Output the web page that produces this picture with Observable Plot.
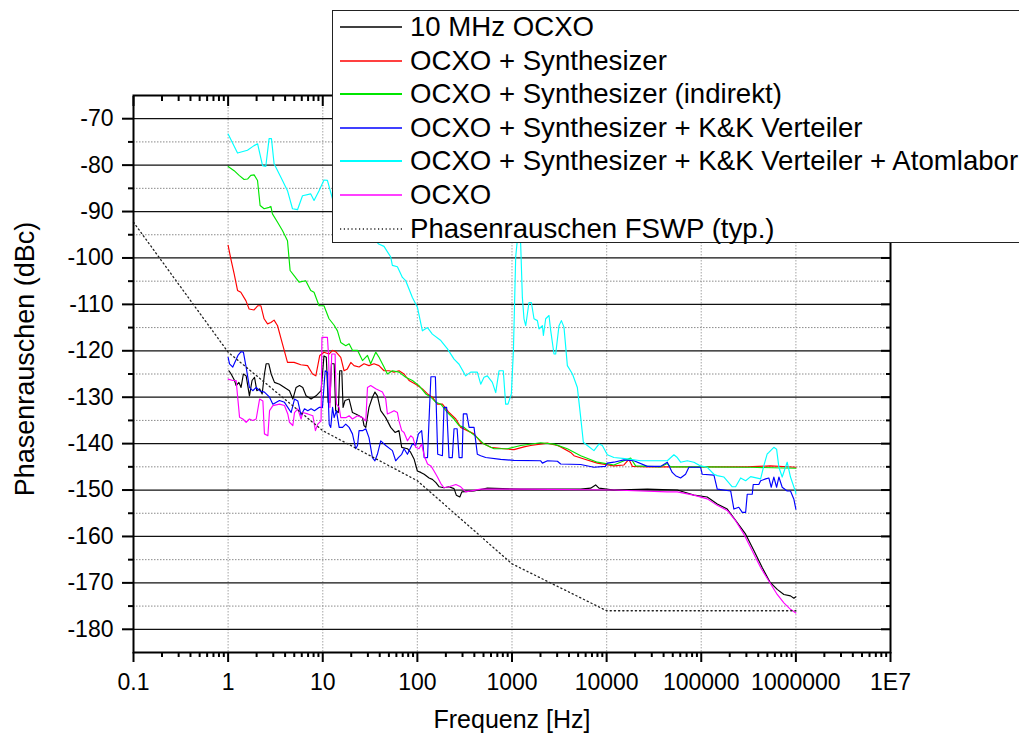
<!DOCTYPE html>
<html>
<head>
<meta charset="utf-8">
<script src="https://cdn.jsdelivr.net/npm/d3@7"></script>
<script src="https://cdn.jsdelivr.net/npm/@observablehq/plot@0.6"></script>
<style>
html, body { margin: 0; padding: 0; background: #fff; overflow: hidden; width: 1019px; height: 735px; }
#wrap { position: relative; width: 1019px; height: 735px; overflow: hidden; background: #fff; }
#wrap > svg.main { position: absolute; left: 0; top: 0; }
#legend { position: absolute; left: 332px; top: 10px; width: 760px; height: 233px; box-sizing: border-box;
  border: 1px solid #222; background: #fff; font-family: "Liberation Sans", Arial, sans-serif; font-size: 27.6px; color: #000; }
.row { position: absolute; left: 0; height: 34px; display: flex; align-items: center; white-space: nowrap; }
.row svg { display: block; flex: none; margin-left: 7px; margin-right: 8px; }
</style>
</head>
<body>
<div id="wrap"><div id="legend"></div></div>
<script>
// ---- data ----
const seriesNames = ["10 MHz OCXO", "OCXO + Synthesizer", "OCXO + Synthesizer (indirekt)",
  "OCXO + Synthesizer + K&K Verteiler", "OCXO + Synthesizer + K&K Verteiler + Atomlabor",
  "OCXO", "Phasenrauschen FSWP (typ.)"];
const seriesColors = ["#000000", "#ff0000", "#00e600", "#0000ff", "#00ffff", "#ff00ff", "#222222"];

const freqOcxo10 = [1.02,1.076,1.17,1.215,1.30,1.37,1.45,1.55,1.68,1.79,
1.90,2.01,2.15,2.29,2.42,2.52,2.69,2.85,3.09,3.49,
3.94,4.45,4.83,5.23,5.68,6.15,6.66,7.53,8.50,9.60,
10.3,10.9,11.4,11.9,12.35,13.2,13.7,14.6,15.1,15.9,
16.4,17.2,19.0,20.6,22.3,24.2,26.3,27.3,28.5,30.8,
33.5,35.6,37.8,41.0,46.3,52.3,58.1,63.9,68.3,78.5,
85,92.2,100,108.6,118,133,144,157,170,191,
216,244,258,281,295,397,549,1235,5320,6780,
7650,8290,11940,26930,55800,83570,115700,147600,188200,240100,
294500,360900,440800,535500,634800,747000,877200,953000,1000000];
const dbOcxo10 = [-124.3,-125,-126.4,-127.5,-126.8,-127.9,-125,-125.4,-129.7,-126.4,
-125.7,-128.6,-128.2,-129.3,-125,-122.8,-122.8,-125,-126.8,-127.2,
-127.9,-128.6,-130.4,-127.9,-127.5,-127.9,-129.7,-130.4,-129.7,-128.6,
-121.1,-121.4,-131.1,-131.1,-122.8,-122.8,-132.9,-133.3,-124.3,-124.3,
-132.2,-130.7,-130.4,-133.3,-133.6,-134,-134.4,-136.1,-136.5,-132.2,
-130,-128.9,-129.7,-132.9,-134.4,-136.5,-137.6,-137.2,-140.8,-141.1,
-141.9,-143.3,-145.9,-146.2,-146.6,-147.4,-147.7,-148.4,-149.3,-149.5,
-149.3,-149.7,-151.1,-151.5,-150.4,-150.2,-149.6,-149.8,-149.8,-149.6,
-148.9,-149.6,-150,-149.8,-150,-151.1,-151.5,-153,-154.1,-157,
-159.5,-163.1,-166.7,-169.9,-171.4,-172.5,-172.8,-173.3,-173];

const freqSynth = [1.0,1.068,1.157,1.257,1.362,1.54,1.667,1.88,2.05,2.22,
2.40,2.61,2.83,3.06,3.33,3.75,4.24,4.98,5.86,6.91,
7.80,8.45,9.3,10.3,11.65,12.7,13.7,15.5,16.8,18.2,
19.8,21.4,24.2,27.3,30.8,34.8,39.3,44.4,50.1,56.7,
63.9,72.3,81.6,96,113,128,144,163,184,216,
255,287,337,397,467,596,823,1050,1339,1576,
2370,3020,3270,4170,4517,5760,7980,11940,15240,17200,
18700,26930,60470,136200,306100,535500,1000000];
const dbSynth = [-97.3,-100.2,-103.4,-107,-107.4,-109.2,-111,-111.2,-110.3,-110.3,
-113.1,-114.2,-113.9,-113.4,-114.6,-118.5,-122.5,-122.5,-123,-123.2,
-125,-125.4,-121,-120.3,-120.7,-119.9,-120.2,-121.4,-124.3,-123.9,
-122.5,-123.2,-123.5,-122.8,-123.2,-122.8,-123.2,-124.3,-124.3,-124.6,
-124.3,-125,-126.4,-127.2,-128.2,-129.3,-130,-131.5,-131.5,-133.3,
-134.7,-136.5,-137.2,-137.9,-139.7,-140.8,-141.1,-141.3,-140.7,-140.4,
-139.9,-140.4,-140.7,-141.9,-142.6,-143.3,-144.2,-144.8,-144.6,-143.4,
-144.9,-145,-145,-145,-145,-144.8,-145.1];

const freqIndirekt = [1.0,1.157,1.307,1.476,1.603,1.737,1.882,2.045,2.178,2.401,
2.711,2.83,2.94,3.33,3.75,4.24,4.52,4.98,5.62,6.61,
7.47,8.09,9.14,10.3,11.65,13.2,14.3,15.5,17.5,19.0,
20.6,23.3,26.3,29.7,32.1,36.3,39.3,44.4,48.2,54.5,
63.9,75.3,88.6,104,122.6,139,157,177,208,244,
276,311,430,506,646,892,1235,2010,2778,3847,
5320,7980,11940,17930,20250,37190,43780,47420,98500,332600,
1000000];
const dbIndirekt = [-80.3,-81.2,-82.2,-83.1,-83,-82.2,-82.1,-83.3,-88.7,-89.4,
-89.1,-88.9,-90.5,-92.3,-94.1,-96.3,-102.7,-103.8,-105.2,-104.9,
-107,-107.4,-110.3,-110.3,-113.1,-114.5,-115.7,-118.2,-118.9,-118.5,
-119.9,-119.9,-122.1,-121,-122.8,-120.3,-121.4,-123.5,-125,-124.3,
-124.6,-125.7,-126.4,-127.5,-129.3,-130,-131.1,-131.5,-133.3,-134.7,
-136.1,-136.5,-138.7,-140.1,-141.1,-141.1,-140.4,-139.8,-140.1,-141.1,
-142.6,-144,-144.6,-143.1,-144.8,-145,-144.3,-145,-145,-145.1,
-145.3];

const freqVerteiler = [1.0,1.035,1.12,1.27,1.37,1.45,1.55,1.68,1.82,1.98,
2.15,2.42,2.74,2.97,3.49,3.94,4.27,4.63,5.03,5.45,
5.90,6.41,6.95,7.53,8.17,9.14,9.93,10.6,11.2,11.7,
12.15,12.7,13.2,13.95,14.9,16.2,17.5,19.0,20.6,22.3,
23.3,24.2,26.3,28.5,30.8,33.5,35.6,37.8,41.0,46.3,
54.5,59.0,63.0,68.3,72.3,78.5,88.6,96,102.6,111,
118,128,134,139,155,164,184,191,204,216,
234,244,263,276,297,306,333,352,397,430,
467,527,759,1050,2010,2096,2370,3020,3270,5320,
7340,9700,10170,11940,15240,19440,26930,37190,43780,49370,
53550,60470,68280,74050,98500,102500,136200,147600,204600,221300,
249300,271100,294500,306100,345700,354200,406000,424100,478800,518000,
549000,585000,625500,661300,716800,809400,877200,953000,1000000];
const dbVerteiler = [-121.4,-122.8,-123.5,-121,-120.2,-120.3,-123.5,-127.9,-128.6,-127.9,
-128.6,-128.9,-130,-131.5,-130.7,-131.1,-132.2,-133.3,-130.4,-130.8,
-133.9,-132.5,-132.9,-132.5,-132.9,-132.2,-132.2,-124.3,-124.6,-135.8,
-136.5,-132.2,-134.4,-132.9,-136.5,-136.5,-135.8,-136.5,-137.9,-141.1,
-140.4,-137.2,-137.2,-136.8,-138.7,-143,-143.7,-142.3,-139.4,-140.4,
-141.5,-143.7,-143,-142.3,-141.1,-142.3,-140.1,-140.4,-137.9,-137.2,
-143,-143,-133,-125.6,-125.6,-142.3,-142.6,-132.2,-132.2,-143,
-143,-136.8,-136.8,-143,-143,-133.6,-133.6,-136.5,-136.5,-142.3,
-142.6,-143,-143.4,-143.6,-143.7,-144.2,-143.7,-143.8,-144.4,-144.5,
-145.1,-144.9,-144.2,-144,-143.5,-143.7,-144.9,-144.9,-144,-146.2,
-146.9,-147.4,-146.6,-145.1,-145.1,-146.6,-146.8,-149.8,-150.2,-154.1,
-153.7,-154.8,-154.8,-150.9,-150.9,-148.8,-148.8,-148,-147.6,-147.4,
-149.4,-147.2,-149.4,-147.2,-149.4,-150.2,-150.2,-152,-154.1];

const freqAtomlabor = [1.0,1.257,1.60,1.88,2.05,2.31,2.50,2.71,2.87,3.06,
3.61,4.24,4.79,5.41,6.11,7.47,8.09,9.14,10.3,11.2,
12.7,18,26,39,44.4,52.3,54.4,61.5,69.5,75.3,
88.6,100,113,128,144,177,208,244,276,324,
366,430,467,506,549,620,673,729,809,857,
907,984,1035,1094,1140,1180,1210,1235,1287,1339,
1396,1512,1603,1708,1855,1929,2096,2147,2270,2460,
2563,2778,2895,3137,3326,3542,3847,4355,4906,5316,
5677,6255,7344,8293,9010,10170,11940,16550,22870,37190,
43780,51400,55800,60470,71150,83570,98500,115700,136200,147600,
173800,212600,230800,260800,294500,332600,424100,459500,497800,518000,
585000,625500,661300,716800,809400,877200,992000,1000000];
const dbAtomlabor = [-73.3,-77.4,-76.8,-75.8,-75.4,-80.1,-80.3,-74.3,-74.3,-79.7,
-82.6,-85.5,-89.4,-89.6,-86.6,-86.2,-87.6,-85.5,-83.2,-83.3,
-87.3,-89,-93,-97,-97.5,-99.8,-101.6,-101.9,-104.2,-104.9,
-108.5,-110.6,-115.7,-115,-116.4,-117.8,-119.6,-121.8,-122.9,-125.4,
-124.6,-124.6,-127.2,-125.7,-125.4,-126.8,-129,-124.3,-124.3,-131.5,
-131.5,-129.3,-120,-99.8,-96,-92,-95,-97,-108.5,-113.1,
-114.6,-109.6,-109.6,-113.1,-113.5,-115.3,-114.6,-116.7,-113.1,-112.4,
-115.6,-120.7,-120.7,-114.6,-113.5,-114.9,-123.2,-125,-127.9,-134.3,
-139.7,-140.4,-141.5,-140.1,-140.4,-142.4,-143,-143.3,-143.7,-143.7,
-143.7,-142.4,-143,-144,-143.7,-144,-144.8,-145.1,-146.6,-146.9,
-147.2,-149.3,-149.3,-147.4,-148,-147.1,-147.6,-144.7,-142.2,-141.9,
-140.8,-141.2,-145.1,-147.2,-144,-147.2,-150.4,-150.8];

const freqOcxo = [1.0,1.12,1.215,1.32,1.43,1.55,1.68,1.82,1.98,2.15,
2.33,2.42,2.63,2.74,2.97,3.49,3.94,4.27,4.45,4.83,
5.03,5.45,5.90,6.15,6.95,7.86,8.37,8.86,9.6,9.8,
11.2,11.5,11.9,12.45,13.5,13.95,14.9,15.5,17.5,19.0,
20.6,23.3,26.3,28.5,29.7,32.1,36.3,42.7,46.3,48.2,
52.3,56.7,61.5,63.9,68.3,72.3,78.5,85,89.9,96,
104,111,118,128,139,150,163,177,191,216,
255,287,324,467,1230,11900,43780,55800,83570,115700,
147600,188200,230800,282400,345700,424100,518000,634800,747000,877200,
1000000];
const dbOcxo = [-126.1,-126.4,-126.4,-134.3,-134.7,-135.4,-134.7,-135,-134.7,-130.4,
-130.8,-137.9,-138.3,-132.9,-131.8,-131.5,-131.8,-133.6,-135.4,-136.1,
-133.3,-132.5,-134.7,-133.3,-133.6,-134,-137.2,-135.8,-135.1,-117.1,
-117.1,-120.7,-132.2,-120.7,-120.7,-131.5,-132.2,-134.4,-134.4,-134,
-134.7,-134,-134.4,-135.1,-127.9,-127.5,-128.2,-128.9,-130.4,-133.6,
-133.3,-132.9,-133.3,-135.1,-137.2,-137.6,-139.4,-138.3,-138.7,-140.8,
-141.1,-140.1,-142.6,-144.4,-144.8,-145.9,-147.2,-148.6,-149.5,-149.3,
-148.8,-149.3,-150.4,-149.8,-149.8,-150,-150.4,-150.4,-151.1,-151.9,
-153.3,-154.4,-156.6,-159.5,-163.1,-166.7,-169.6,-172.5,-174.3,-175.7,
-176.5];

const freqFswp = [0.1, 1, 10, 100, 1000, 10000, 1000000];
const dbFswp = [-92.3, -120.3, -137.2, -148, -165.9, -176, -176];

// ticks
const xMajor = [0.1, 1, 10, 100, 1000, 10000, 100000, 1000000, 10000000];
const xLabels = ["0.1", "1", "10", "100", "1000", "10000", "100000", "1000000", "1E7"];
const xGridLines = [1, 10, 100, 1000, 10000, 100000, 1000000];
const xMinor = d3.range(-1, 7).flatMap(k => d3.range(2, 10).map(m => m * Math.pow(10, k)));
const yMajor = [-70, -80, -90, -100, -110, -120, -130, -140, -150, -160, -170, -180];
const yMinor = [-75, -85, -95, -105, -115, -125, -135, -145, -155, -165, -175];
const xTitle = "Frequenz [Hz]";
const yTitle = "Phasenrauschen (dBc)";

// ---- build ----
const seriesData = [
  [freqOcxo10, dbOcxo10], [freqSynth, dbSynth], [freqIndirekt, dbIndirekt],
  [freqVerteiler, dbVerteiler], [freqAtomlabor, dbAtomlabor], [freqOcxo, dbOcxo], [freqFswp, dbFswp]
].map(([f, v], s) => f.map((x, i) => ({f: x, db: v[i], s})));

const font = "'Liberation Sans', Arial, sans-serif";
const tickFont = 23;

const lineMarks = [0, 1, 2, 3, 4, 5].map(s =>
  Plot.line(seriesData[s], {x: "f", y: "db", stroke: seriesColors[s], strokeWidth: 1.15})
);

const chart = Plot.plot({
  width: 1019, height: 735,
  marginLeft: 133, marginRight: 129, marginTop: 95, marginBottom: 83,
  x: {type: "log", domain: [0.1, 1e7]},
  y: {domain: [-185, -65]},
  style: {fontFamily: font, background: "#fff", color: "#000", overflow: "visible"},
  marks: [
    Plot.gridX(xGridLines, {stroke: "#b4b4b4", strokeOpacity: 1, strokeWidth: 1.2, strokeDasharray: "1.5,1.5"}),
    Plot.gridY(yMinor, {stroke: "#8a8a8a", strokeOpacity: 1, strokeWidth: 1, strokeDasharray: "1.5,1.5"}),
    Plot.gridY(yMajor, {stroke: "#111", strokeOpacity: 1, strokeWidth: 1.2}),
    ...lineMarks,
    Plot.line(seriesData[6], {x: "f", y: "db", stroke: seriesColors[6], strokeWidth: 1.3, strokeDasharray: "1.2,3"}),
    Plot.frame({stroke: "#000", strokeWidth: 2}),
    // bottom axis: outward ticks with labels
    Plot.axisX(xMajor, {anchor: "bottom", tickSize: 10, tickPadding: 11, strokeWidth: 2, fontSize: tickFont,
      tickFormat: d => xLabels[xMajor.indexOf(d)], label: null}),
    Plot.axisX(xMinor, {anchor: "bottom", tickSize: 5, strokeWidth: 2, tickFormat: () => "", label: null}),
    // top axis: inward ticks (shifted down by their own length)
    Plot.axisX(xMajor, {anchor: "top", tickSize: 10, dy: 10, strokeWidth: 2, tickFormat: () => "", label: null}),
    Plot.axisX(xMinor, {anchor: "top", tickSize: 5, dy: 5, strokeWidth: 2, tickFormat: () => "", label: null}),
    // left axis: outward ticks with labels
    Plot.axisY(yMajor, {anchor: "left", tickSize: 11, tickPadding: 9, strokeWidth: 2, fontSize: tickFont,
      tickFormat: d => String(d), label: null}),
    Plot.axisY(yMinor, {anchor: "left", tickSize: 5, strokeWidth: 2, tickFormat: () => "", label: null}),
    // right axis: inward ticks
    Plot.axisY(yMajor, {anchor: "right", tickSize: 10, dx: -10, strokeWidth: 2, tickFormat: () => "", label: null}),
    Plot.axisY(yMinor, {anchor: "right", tickSize: 5, dx: -5, strokeWidth: 2, tickFormat: () => "", label: null}),
    Plot.text([xTitle], {text: d => d, frameAnchor: "bottom", dy: 67, fontSize: 25, textAnchor: "middle", lineAnchor: "middle", fill: "#000"}),
    Plot.text([yTitle], {text: d => d, frameAnchor: "left", dx: -108, dy: -15, rotate: -90, fontSize: 27, textAnchor: "middle", lineAnchor: "middle", fill: "#000"})
  ]
});
chart.setAttribute("width", 1019);
chart.setAttribute("height", 735);
chart.classList.add("main");
document.getElementById("wrap").insertBefore(chart, document.getElementById("legend"));

// ---- legend ----
const legend = document.getElementById("legend");
const firstCenter = 16;
const rowStep = 33.6;
seriesNames.forEach((name, i) => {
  const row = document.createElement("div");
  row.className = "row";
  row.style.top = (firstCenter + i * rowStep - 17) + "px";
  const ns = "http://www.w3.org/2000/svg";
  const s = document.createElementNS(ns, "svg");
  s.setAttribute("width", 62); s.setAttribute("height", 6);
  const ln = document.createElementNS(ns, "line");
  ln.setAttribute("x1", 0); ln.setAttribute("x2", 62); ln.setAttribute("y1", 3); ln.setAttribute("y2", 3);
  ln.setAttribute("stroke", seriesColors[i]);
  ln.setAttribute("stroke-width", i === 4 || i === 2 ? 2 : 1.3);
  if (i === 6) ln.setAttribute("stroke-dasharray", "1.2,2.6");
  s.appendChild(ln);
  const t = document.createElement("span");
  t.textContent = name;
  row.appendChild(s); row.appendChild(t);
  legend.appendChild(row);
});
</script>
</body>
</html>
